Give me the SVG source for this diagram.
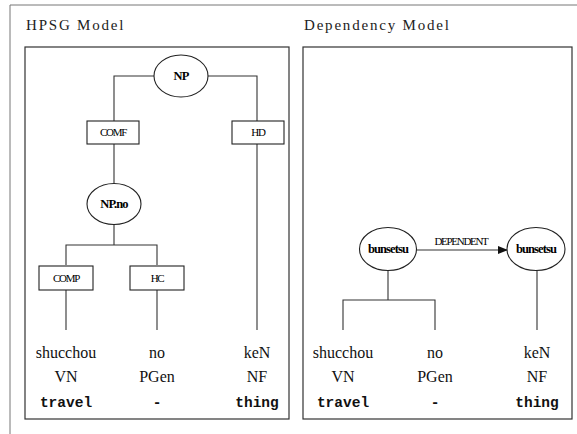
<svg xmlns="http://www.w3.org/2000/svg" width="577" height="434" viewBox="0 0 577 434">
<style>
.frame{fill:none;stroke:#777;stroke-width:1}
.panel{fill:#fff;stroke:#333;stroke-width:1.2}
.ln{fill:none;stroke:#333;stroke-width:1.1}
.nd{fill:#fff;stroke:#222;stroke-width:1.1}
.title{font-family:'Liberation Serif','Times New Roman',Times,'DejaVu Serif',serif;font-size:15px;letter-spacing:1.8px;fill:#222}
.lab{font-family:'Liberation Serif','Times New Roman',Times,'DejaVu Serif',serif;font-size:11px;letter-spacing:-1.3px;fill:#000;text-anchor:middle}
.elab{font-family:'Liberation Serif','Times New Roman',Times,'DejaVu Serif',serif;font-size:12.5px;font-weight:bold;letter-spacing:-0.9px;fill:#000;text-anchor:middle}
.w{font-family:'Liberation Serif','Times New Roman',Times,'DejaVu Serif',serif;font-size:16px;fill:#111;text-anchor:middle}
.g{font-family:'Liberation Mono','Courier New',Courier,'DejaVu Sans Mono',monospace;font-size:14.5px;font-weight:bold;fill:#111;text-anchor:middle}
</style>
<defs>
<marker id="arr" markerWidth="10" markerHeight="8" refX="9" refY="4" orient="auto" markerUnits="userSpaceOnUse">
<path d="M0,0 L10,4 L0,8 z" fill="#111"/>
</marker>
</defs>
<path class="frame" d="M10,434 V5 H577"/>
<text class="title" x="26" y="30">HPSG Model</text>
<text class="title" x="304" y="30">Dependency Model</text>
<rect class="panel" x="25" y="47" width="264" height="372"/>
<rect class="panel" x="303" y="47" width="269" height="372"/>
<g id="connectors">
<path class="ln" d="M154,76 H114 V121 M114,144 V183 M207,76 H257 V121 M257,144 V330"/>
<path class="ln" d="M114,224 V245 M66,265 V245 H157 V265 M66,290 V330 M157,290 V330"/>
<path class="ln" d="M388,270 V300 M343,330 V300 H435 V330 M537,270 V330"/>
<line class="ln" x1="416" y1="250" x2="507" y2="250" marker-end="url(#arr)"/>
<text class="lab" x="461" y="245">DEPENDENT</text>
</g>
<g id="np"><ellipse class="nd" cx="181" cy="76" rx="27" ry="21"/><text class="elab" x="181" y="80">NP</text></g>
<g id="comp1"><rect class="nd" x="87" y="121" width="52" height="23"/><text class="lab" x="113" y="136">COMF</text></g>
<g id="hd1"><rect class="nd" x="232" y="121" width="52" height="23"/><text class="lab" x="258" y="136">HD</text></g>
<g id="npno"><ellipse class="nd" cx="114" cy="204" rx="27" ry="20.5"/><text class="elab" x="114" y="208">NP.no</text></g>
<g id="comp2"><rect class="nd" x="39" y="266" width="54" height="24"/><text class="lab" x="66" y="282">COMP</text></g>
<g id="hc"><rect class="nd" x="130" y="266" width="54" height="24"/><text class="lab" x="157" y="282">HC</text></g>
<g id="bun1"><ellipse class="nd" cx="388" cy="249" rx="28.5" ry="21.5"/><text class="elab" x="388" y="253">bunsetsu</text></g>
<g id="bun2"><ellipse class="nd" cx="536" cy="249" rx="29" ry="21.5"/><text class="elab" x="536" y="253">bunsetsu</text></g>
<g id="words-left">
<text class="w" x="66" y="358">shucchou</text><text class="w" x="157" y="358">no</text><text class="w" x="257" y="358">keN</text>
<text class="w" x="66" y="382">VN</text><text class="w" x="157" y="382">PGen</text><text class="w" x="257" y="382">NF</text>
<text class="g" x="66" y="407">travel</text><text class="g" x="157" y="407">-</text><text class="g" x="257" y="407">thing</text>
</g>
<g id="words-right">
<text class="w" x="343" y="358">shucchou</text><text class="w" x="435" y="358">no</text><text class="w" x="537" y="358">keN</text>
<text class="w" x="343" y="382">VN</text><text class="w" x="435" y="382">PGen</text><text class="w" x="537" y="382">NF</text>
<text class="g" x="343" y="407">travel</text><text class="g" x="435" y="407">-</text><text class="g" x="537" y="407">thing</text>
</g>
</svg>
